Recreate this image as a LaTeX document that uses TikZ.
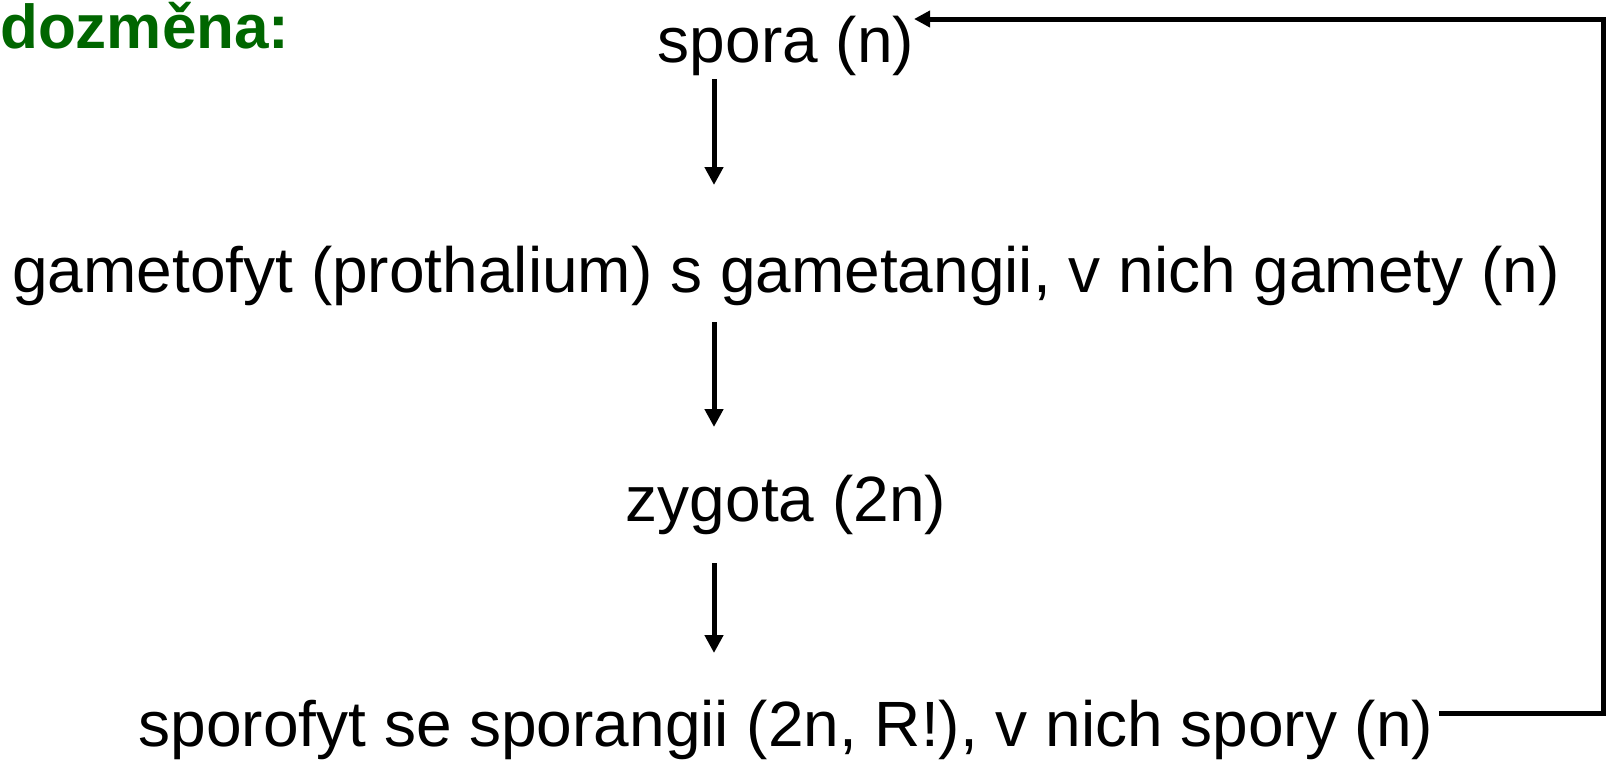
\documentclass[tikz,border=0pt]{standalone}
\usepackage{fontspec}
\setmainfont{Liberation Sans}
\usetikzlibrary{arrows.meta}
\definecolor{titlegreen}{RGB}{0,102,0}
\begin{document}
\begin{tikzpicture}[x=1pt,y=-1pt,
  lbl/.style={inner sep=0pt,outer sep=0pt,anchor=base,font=\fontsize{64}{77}\selectfont},
  conn/.style={line width=5pt,-{Triangle[width=18pt,length=18pt]}},
  loopline/.style={line width=5pt,line join=miter,-{Triangle[width=16pt,length=16pt]}}]
\useasboundingbox (0,0) rectangle (1607,763);
\node[inner sep=0pt,anchor=base west,text=titlegreen,font=\fontsize{62}{74}\selectfont\bfseries] (title) at (0,48.5) {dozměna:};
\node[lbl] (spora) at (786,62) {spora (n)};
\node[lbl] (gam) at (786,292) {gametofyt (prothalium) s gametangii, v nich gamety (n)};
\node[lbl] (zyg) at (786,521) {zygota (2n)};
\node[lbl] (spor) at (786,746) {sporofyt se sporangii (2n, R!), v nich spory (n)};
\coordinate (c1) at (1603,713);
\coordinate (c2) at (1603,19);
\draw[conn] ([xshift=-72pt,yshift=-17pt]spora.base) -- ([xshift=-72pt,yshift=107pt]gam.base);
\draw[conn] ([xshift=-72pt,yshift=-30pt]gam.base) -- ([xshift=-72pt,yshift=94pt]zyg.base);
\draw[conn] ([xshift=-72pt,yshift=-42pt]zyg.base) -- ([xshift=-72pt,yshift=93pt]spor.base);
\draw[loopline] ([xshift=6pt,yshift=33pt]spor.base east) -- (c1) -- (c2) -- ([yshift=43pt]spora.base east);
\end{tikzpicture}
\end{document}
